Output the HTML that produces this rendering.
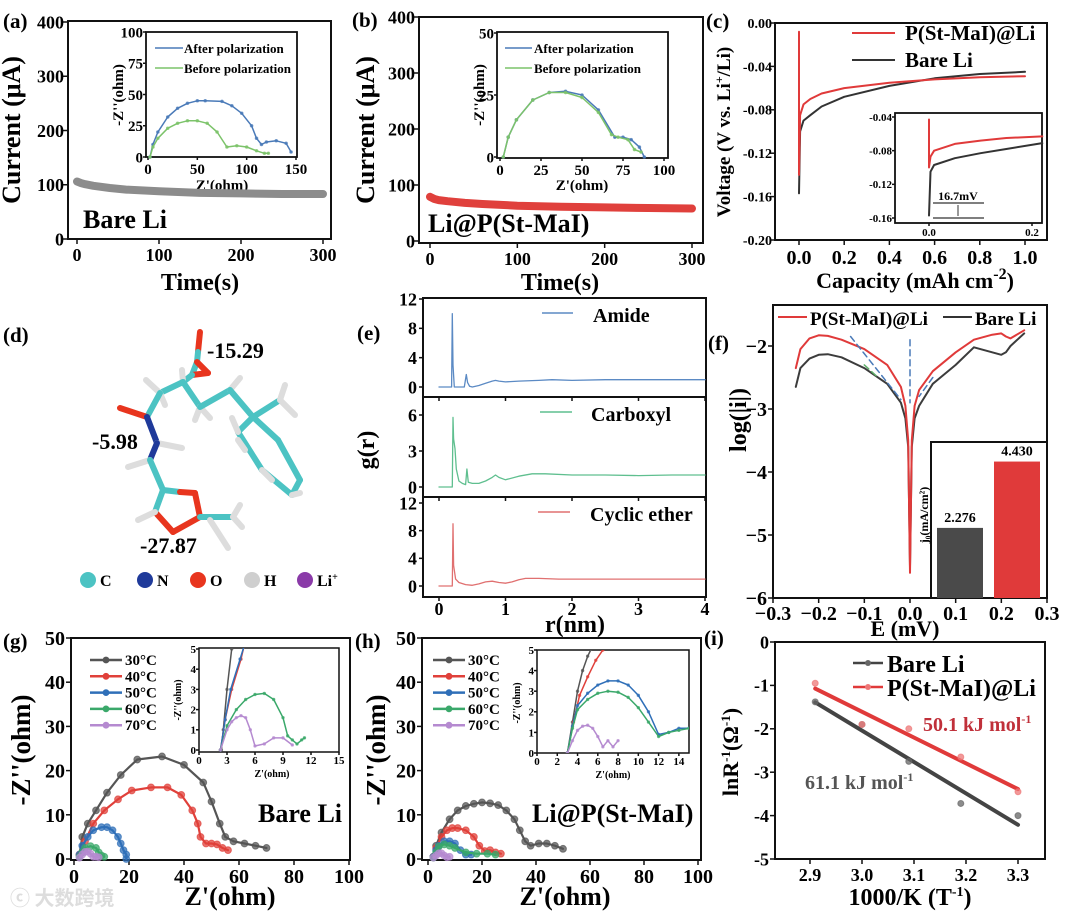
<!DOCTYPE html>
<html><head><meta charset="utf-8"><title>Figure</title>
<style>
html,body{margin:0;padding:0;background:#fff;}
svg{display:block;font-family:"Liberation Serif","Noto Serif CJK SC",serif;font-weight:bold;}
</style></head>
<body>
<svg id="fig" width="1080" height="917" viewBox="0 0 1080 917" xmlns="http://www.w3.org/2000/svg">
<rect width="1080" height="917" fill="#fff"/>
<text x="3" y="28" font-size="21">(a)</text>
<text x="352" y="27" font-size="21">(b)</text>
<text x="706" y="28" font-size="21">(c)</text>
<text x="3" y="342" font-size="21">(d)</text>
<text x="357" y="340" font-size="21">(e)</text>
<text x="708" y="350" font-size="21">(f)</text>
<text x="3" y="648" font-size="21">(g)</text>
<text x="355" y="648" font-size="21">(h)</text>
<text x="704" y="645" font-size="21">(i)</text>

<text x="200" y="290" font-size="24" text-anchor="middle">Time(s)</text>
<text transform="translate(20,130) rotate(-90)" font-size="26" text-anchor="middle">Current (μA)</text>
<text x="83" y="228" font-size="26">Bare Li</text>
<text x="222" y="190" font-size="15" text-anchor="middle">Z'(ohm)</text>
<text transform="translate(123,95) rotate(-90)" font-size="15" text-anchor="middle">-Z''(ohm)</text>

<text x="560" y="290" font-size="24" text-anchor="middle">Time(s)</text>
<text transform="translate(374,130) rotate(-90)" font-size="26" text-anchor="middle">Current (μA)</text>
<text x="428" y="232" font-size="26">Li@P(St-MaI)</text>
<text x="582" y="190" font-size="15" text-anchor="middle">Z'(ohm)</text>
<text transform="translate(484,95) rotate(-90)" font-size="15" text-anchor="middle">-Z''(ohm)</text>

<text x="915" y="288" font-size="22" text-anchor="middle">Capacity  (mAh cm<tspan dy="-9" font-size="16">-2</tspan><tspan dy="9">)</tspan></text>
<text transform="translate(730,132) rotate(-90)" font-size="19" text-anchor="middle">Voltage (V vs. Li<tspan dy="-7" font-size="12">+</tspan><tspan dy="7">/Li)</tspan></text>
<text x="905" y="40" font-size="21">P(St-MaI)@Li</text>
<text x="905" y="67" font-size="21">Bare Li</text>
<line x1="852" y1="33" x2="895" y2="33" stroke="#e03a3a" stroke-width="2"/>
<line x1="852" y1="60" x2="895" y2="60" stroke="#333" stroke-width="2"/>
<g id="cAnnot">
<text x="958" y="200" font-size="12" text-anchor="middle">16.7mV</text>
<line x1="933" y1="203" x2="984" y2="203" stroke="#333" stroke-width="1.3"/>
<line x1="933" y1="218" x2="984" y2="218" stroke="#333" stroke-width="1.3"/>
<line x1="958" y1="205" x2="958" y2="216" stroke="#333" stroke-width="1"/>
</g>

<text x="575" y="632" font-size="24" text-anchor="middle">r(nm)</text>
<text transform="translate(374,450) rotate(-90)" font-size="24" text-anchor="middle">g(r)</text>
<line x1="542" y1="313" x2="573" y2="313" stroke="#5b8ac4" stroke-width="1.5"/>
<text x="593" y="322" font-size="20">Amide</text>
<line x1="540" y1="412" x2="572" y2="412" stroke="#5fbf8f" stroke-width="1.5"/>
<text x="591" y="421" font-size="20">Carboxyl</text>
<line x1="538" y1="512" x2="570" y2="512" stroke="#e07070" stroke-width="1.5"/>
<text x="590" y="521" font-size="20">Cyclic ether</text>

<text x="905" y="636" font-size="22" text-anchor="middle">E (mV)</text>
<text transform="translate(746,420) rotate(-90)" font-size="24" text-anchor="middle">log(|i|)</text>
<line x1="778" y1="317" x2="807" y2="317" stroke="#e03a3a" stroke-width="2"/>
<text x="810" y="325" font-size="19">P(St-MaI)@Li</text>
<line x1="943" y1="317" x2="972" y2="317" stroke="#333" stroke-width="2"/>
<text x="975" y="325" font-size="19">Bare Li</text>

<text x="230" y="905" font-size="26" text-anchor="middle">Z'(ohm)</text>
<text transform="translate(30,750) rotate(-90)" font-size="27" text-anchor="middle">-Z''(ohm)</text>
<text x="258" y="822" font-size="26">Bare Li</text>
<text x="272" y="777" font-size="10" text-anchor="middle">Z'(ohm)</text>
<text transform="translate(181,700) rotate(-90)" font-size="10" text-anchor="middle">-Z''(ohm)</text>

<text x="565" y="905" font-size="26" text-anchor="middle">Z'(ohm)</text>
<text transform="translate(385,750) rotate(-90)" font-size="27" text-anchor="middle">-Z''(ohm)</text>
<text x="532" y="822" font-size="26">Li@P(St-MaI)</text>
<text x="613" y="778" font-size="10" text-anchor="middle">Z'(ohm)</text>
<text transform="translate(520,703) rotate(-90)" font-size="10" text-anchor="middle">-Z''(ohm)</text>

<text x="910" y="905" font-size="24" text-anchor="middle">1000/K (T<tspan dy="-9" font-size="14">-1</tspan><tspan dy="9">)</tspan></text>
<text transform="translate(738,752) rotate(-90)" font-size="22" text-anchor="middle">lnR<tspan dy="-8" font-size="13">-1</tspan><tspan dy="8">(Ω</tspan><tspan dy="-8" font-size="13">-1</tspan><tspan dy="8">)</tspan></text>
<line x1="853" y1="663" x2="883" y2="663" stroke="#444" stroke-width="2.5"/>
<circle cx="868" cy="663" r="3" fill="#666"/>
<text x="887" y="672" font-size="24">Bare Li</text>
<line x1="853" y1="687" x2="883" y2="687" stroke="#e03a3a" stroke-width="2.5"/>
<circle cx="868" cy="687" r="3" fill="#e77"/>
<text x="887" y="696" font-size="24">P(St-MaI)@Li</text>
<text x="923" y="731" font-size="20" fill="#c0303a">50.1 kJ mol<tspan dy="-8" font-size="12">-1</tspan></text>
<text x="805" y="789" font-size="20" fill="#555">61.1 kJ mol<tspan dy="-8" font-size="12">-1</tspan></text>

<g id="mol" stroke-linecap="round" fill="none" stroke-width="6"></g>
<text x="207" y="358" font-size="22">-15.29</text>
<text x="92" y="449" font-size="22">-5.98</text>
<text x="140" y="553" font-size="22">-27.87</text>
<g font-size="16">
<circle cx="88" cy="580" r="8" fill="#4cc3c3"/><text x="100" y="586">C</text>
<circle cx="145" cy="580" r="8" fill="#1f3a9a"/><text x="157" y="586">N</text>
<circle cx="198" cy="580" r="8" fill="#e8351e"/><text x="210" y="586">O</text>
<circle cx="252" cy="580" r="8" fill="#cfcfcf"/><text x="264" y="586">H</text>
<circle cx="305" cy="580" r="8" fill="#8a3aa8"/><text x="317" y="586">Li<tspan dy="-6" font-size="10">+</tspan></text>
</g>
<text x="10" y="905" font-size="20" fill="#ddd" font-family="Noto Sans CJK SC, sans-serif">ⓒ 大数跨境</text>
</svg>
<script>
const aTime=[0,5,10,20,40,60,100,150,200,250,300];
const aCurrent=[106,103,101,98,94,91,88,85,84,83,83];
const bCurrent=[79,75,73,71,68,66,63,61,60,59,58];
const aInAfterX=[2,5,10,20,30,40,50,58,75,85,95,105,110,115,120,130,140,145];
const aInAfterY=[0,10,20,32,39,43,45,45,44.5,41,35,25,15,10,12,13,11,4];
const aInBeforeX=[2,5,10,20,30,40,50,60,70,80,90,100,110,118,122];
const aInBeforeY=[0,8,15,23,27,29,29,27,20,8,9,8,5,3,3];
const bInAfterX=[2,5,10,20,30,40,50,60,70,75,80,85,88];
const bInAfterY=[0,8,15,23,26,26.5,25,19,8,8,7,4,0];
const bInBeforeX=[2,5,10,20,30,40,50,60,68,72,78,82,86];
const bInBeforeY=[0,8,15,23,26,26,24,18,9,8,7,3,2];
const cRedX=[0,0,0.005,0.02,0.05,0.1,0.2,0.4,0.6,0.8,1.0];
const cRedY=[-0.008,-0.14,-0.085,-0.075,-0.07,-0.065,-0.06,-0.055,-0.052,-0.05,-0.049];
const cBareX=[0,0.005,0.02,0.05,0.1,0.2,0.4,0.6,0.8,1.0];
const cBareY=[-0.157,-0.1,-0.09,-0.085,-0.077,-0.068,-0.058,-0.051,-0.047,-0.045];
const cInRedX=[0,0,0.003,0.01,0.05,0.1,0.15,0.22];
const cInRedY=[-0.043,-0.1,-0.087,-0.08,-0.072,-0.068,-0.065,-0.063];
const cInBareX=[0,0.003,0.01,0.05,0.1,0.15,0.22];
const cInBareY=[-0.157,-0.105,-0.097,-0.089,-0.083,-0.078,-0.071];
const eAmideR=[0,0.19,0.2,0.21,0.23,0.3,0.38,0.41,0.43,0.46,0.5,0.6,0.7,0.8,0.85,0.9,1.0,1.2,1.5,1.7,2.0,2.5,3.0,3.5,4.0];
const eAmideG=[0,0,10,3,0,0,0,1.7,0.6,0.1,0,0.2,0.5,0.8,0.9,0.8,0.7,0.8,0.9,1,0.9,1,1,1,1];
const eCarbR=[0,0.2,0.21,0.22,0.24,0.26,0.28,0.3,0.35,0.4,0.42,0.44,0.5,0.6,0.7,0.8,0.85,0.9,1.0,1.2,1.4,1.6,2,2.5,3,3.5,4];
const eCarbG=[0,0,5.8,4,3.2,1.5,1,0.5,0.3,0.2,1.5,0.4,0.3,0.3,0.5,0.8,1,0.8,0.6,0.9,1.1,1.1,1,1,0.95,1,1];
const eCycR=[0,0.2,0.21,0.22,0.25,0.3,0.4,0.5,0.6,0.7,0.8,0.9,1.0,1.1,1.2,1.3,1.5,1.8,2,2.5,3,3.5,4];
const eCycG=[0,0,9,3,1,0.5,0.2,0.1,0.3,0.6,0.7,0.5,0.4,0.6,0.9,1.1,1.1,1,1,1,1,1,1];
const fE=[-0.25,-0.24,-0.22,-0.2,-0.18,-0.15,-0.1,-0.05,-0.02,-0.01,-0.004,0,0.004,0.01,0.02,0.05,0.1,0.14,0.18,0.2,0.21,0.22,0.25];
const fRed=[-2.35,-2.05,-1.88,-1.83,-1.84,-1.9,-2.05,-2.3,-2.65,-2.95,-3.5,-5.6,-3.5,-2.95,-2.7,-2.4,-2.1,-1.9,-1.82,-1.8,-1.85,-1.88,-1.75];
const fBare=[-2.65,-2.35,-2.2,-2.14,-2.13,-2.18,-2.35,-2.6,-2.9,-3.15,-3.6,-5.5,-3.6,-3.15,-2.95,-2.6,-2.3,-2.02,-2.1,-2.14,-2.1,-2.0,-1.8];
const fBarCats=['Bare Li','P(St-MaI)@Li'];
const fBarVals=[2.276,4.430];
const temps=['30°C','40°C','50°C','60°C','70°C'];
const gX=[[2,3,5,8,12,17,23,32,40,47,50,53,55,58,62,66,70],[2,4,7,11,16,21,28,34,39,43,45,46,48,50,52,54,56],[2,3,5,7,10,12,14,16,17,18,19,19],[2,3,4,6,8,9,10,11],[2,3,4,5,6,7,8,9]];
const gY=[[1,5,8,11,15,19,22.5,23.2,21.3,17.3,13,8,5,4,3.5,3,2.5],[1,4,8,11,13.5,15.5,16.2,16.2,14.5,11,8,5,3.5,3.5,3.3,2.5,2],[1,3,5,6.5,7.2,7.2,6.5,5,3.5,2,1,0],[0.5,1.5,2.5,2.9,2.5,1.5,0.8,0.5],[0.3,1,1.6,1.7,1.2,0.5,0.5,0.4]];
const gInX=[[2.4,2.6,3,3.5,4,4.5],[2.3,2.8,3.5,4.5,5],[2.3,2.8,3.4,4.4,5],[2.3,3,4,5,6,7,8,9,9.5,10,10.5,11,11.3],[2.3,3,3.5,4,4.5,5,5.5,6,7,8,9,10]];
const gInY=[[0,1,3,5,7,9],[0,1.5,3,4.5,5.5],[0,1.5,3,4.5,5.4],[0,1.2,2,2.5,2.75,2.8,2.5,1.6,0.7,0.5,0.3,0.5,0.6],[0,1,1.4,1.6,1.7,1.6,1,0.2,0.3,0.6,0.6,0.25]];
const hX=[[2,3,5,8,11,14,17,20,23,26,29,32,34,36,38,41,44,47,50],[2,3,5,7,9,11,14,17,19,21,23,25,27],[2,3,4,6,8,10,12,14,16],[2,3,4,6,8,10,14,18,22,25],[2,3,4,5,6,7,8]];
const hY=[[0.5,3,6,9,11,12,12.5,12.8,12.6,12.2,11,9,6.5,4,3,3.5,3.5,3,2.3],[0.5,2.5,5,6.5,7,7,6.5,5,3,1.8,2,1.5,1.2],[0.5,2,3,4,4,3.5,2,1,1],[0.3,1.5,2.8,3.3,3,2.5,1.5,1.2,1.2,1],[0.3,0.8,1.3,1.3,0.8,0.4,0.5]];
const hInX=[[3,3.5,4,4.5,5,5.5],[3,3.6,4.2,5,5.8,6.5],[3,3.5,4,5,6,7,8,9,10,11,12,13,14,15],[3,3.5,4,5,6,7,8,9,10,11,12,13,14,15],[3,3.5,4,4.5,5,5.5,6,6.5,7,7.5,8]];
const hInY=[[0,1.5,3,4,4.7,5.2],[0,1.5,2.8,3.7,4.5,5],[0,1.3,2.3,2.9,3.3,3.5,3.5,3.3,2.8,2,0.9,1,1.2,1.2],[0,1.2,2.1,2.6,2.9,3,2.95,2.7,2.2,1.5,0.8,1,1.1,1.2],[0,0.6,1.1,1.3,1.35,1.2,0.8,0.3,0.6,0.3,0.6]];
const iX=[2.91,3.0,3.09,3.19,3.3];
const iBare=[-1.38,-1.9,-2.75,-3.72,-4.0];
const iRed=[-0.95,-1.9,-2.0,-2.65,-3.45];
const tempColors=['#555','#e0403a','#2f6fb8','#3aa86a','#b58ad0'];

const NS='http://www.w3.org/2000/svg';
const svg=document.getElementById('fig');
function mk(tag,parent){const e=document.createElementNS(NS,tag);parent.appendChild(e);return e;}
function lin(d0,d1,p0,p1){return v=>p0+(v-d0)*(p1-p0)/(d1-d0);}
function pth(xs,ys,X,Y){return xs.map((x,i)=>(i?'L':'M')+X(x).toFixed(1)+','+Y(ys[i]).toFixed(1)).join('');}
function group(name){const g=mk('g',svg);return g;}
function txt(parent,x,y,s,fs,anchor){const t=mk('text',parent);t.setAttribute('x',x);t.setAttribute('y',y);t.setAttribute('font-size',fs);t.setAttribute('text-anchor',anchor||'start');t.textContent=s;return t;}
function axes(g,name,box,X,Y,o){
  const r=mk('rect',g);
  r.setAttribute('x',box[0]);r.setAttribute('y',box[2]);r.setAttribute('width',box[1]-box[0]);r.setAttribute('height',box[3]-box[2]);
  r.setAttribute('fill',o.bg||'none');r.setAttribute('stroke','#111');r.setAttribute('stroke-width',o.sw||2);
  
  
  const tl=o.tl||5;
  (o.xt||[]).forEach((v,i)=>{
    const l=mk('line',g);l.setAttribute('x1',X(v));l.setAttribute('x2',X(v));l.setAttribute('y1',box[3]);l.setAttribute('y2',box[3]+tl);l.setAttribute('stroke','#111');l.setAttribute('stroke-width',1.5);
    
    
    if(o.xl){const t=txt(g,X(v),box[3]+o.xoff,o.xl[i],o.fs,'middle');
      
      }
  });
  (o.yt||[]).forEach((v,i)=>{
    const l=mk('line',g);l.setAttribute('y1',Y(v));l.setAttribute('y2',Y(v));l.setAttribute('x1',box[0]-tl);l.setAttribute('x2',box[0]);l.setAttribute('stroke','#111');l.setAttribute('stroke-width',1.5);
    
    
    if(o.yl){const t=txt(g,box[0]-(o.yoff||6),Y(v)+(o.yfs||o.fs)*0.35,o.yl[i],o.yfs||o.fs,'end');
      
      }
  });
}
function line(g,name,xs,ys,X,Y,color,w,dash){
  const p=mk('path',g);p.setAttribute('d',pth(xs,ys,X,Y));p.setAttribute('fill','none');p.setAttribute('stroke',color);p.setAttribute('stroke-width',w);
  p.setAttribute('stroke-linejoin','round');p.setAttribute('stroke-linecap','round');
  if(dash)p.setAttribute('stroke-dasharray',dash);
  
  
  return p;
}
function dots(g,name,xs,ys,X,Y,color,r){
  xs.forEach((x,i)=>{const c=mk('circle',g);c.setAttribute('cx',X(x));c.setAttribute('cy',Y(ys[i]));c.setAttribute('r',r);c.setAttribute('fill',color);c.setAttribute('stroke',color);c.setAttribute('stroke-opacity',0.7);c.setAttribute('fill-opacity',0.75);
    
    });
}
function fmt(v,d){return (v<0?'-':'')+Math.abs(v).toFixed(d);}

{const g=group('panel-a-chart');
 const X=lin(0,300,77,323),Y=lin(0,400,239,22);
 axes(g,'a',[68,331,21,239],X,Y,{xt:[0,100,200,300],xl:['0','100','200','300'],yt:[0,100,200,300,400],yl:['0','100','200','300','400'],fs:18,xoff:22,yoff:4});
 line(g,'a-current-line',aTime,aCurrent,X,Y,'#8c8c8c',8);
 const Xi=lin(0,150,148,296),Yi=lin(0,100,157,32);
 const gi=group('panel-a-inset');
 axes(gi,'a-inset',[146,297,32,157],Xi,Yi,{xt:[0,50,100,150],xl:['0','50','100','150'],yt:[0,25,50,75,100],yl:['0','25','50','75','100'],fs:15,xoff:17,tl:3,sw:1.8,yoff:3,bg:'#fff'});
 line(gi,'a-inset-after-line',aInAfterX,aInAfterY,Xi,Yi,'#4a7ab8',1.5);
 dots(gi,'a-inset-after-point',aInAfterX,aInAfterY,Xi,Yi,'#4a7ab8',1.3);
 line(gi,'a-inset-before-line',aInBeforeX,aInBeforeY,Xi,Yi,'#7cc36a',1.5);
 dots(gi,'a-inset-before-point',aInBeforeX,aInBeforeY,Xi,Yi,'#7cc36a',1.3);
 const l1=mk('line',gi);l1.setAttribute('x1',155);l1.setAttribute('x2',183);l1.setAttribute('y1',48);l1.setAttribute('y2',48);l1.setAttribute('stroke','#4a7ab8');l1.setAttribute('stroke-width',1.5);
 
 
 const t1=txt(gi,184,53,'After polarization',13);
 
 
 const l2=mk('line',gi);l2.setAttribute('x1',155);l2.setAttribute('x2',183);l2.setAttribute('y1',68);l2.setAttribute('y2',68);l2.setAttribute('stroke','#7cc36a');l2.setAttribute('stroke-width',1.5);
 
 
 const t2=txt(gi,184,73,'Before polarization',13);
 
 
}
{const g=group('panel-b-chart');
 const X=lin(0,300,430,692),Y=lin(0,400,241,17);
 axes(g,'b',[419,703,17,243],X,Y,{xt:[0,100,200,300],xl:['0','100','200','300'],yt:[0,100,200,300,400],yl:['0','100','200','300','400'],fs:18,xoff:22,yoff:4});
 line(g,'b-current-line',aTime,bCurrent,X,Y,'#e0403c',8);
 const Xi=lin(0,100,500,664),Yi=lin(0,50,157,33);
 const gi=group('panel-b-inset');
 axes(gi,'b-inset',[497,668,32,158],Xi,Yi,{xt:[0,25,50,75,100],xl:['0','25','50','75','100'],yt:[0,25,50],yl:['0','25','50'],fs:15,xoff:17,tl:3,sw:1.8,yoff:3,bg:'#fff'});
 line(gi,'b-inset-after-line',bInAfterX,bInAfterY,Xi,Yi,'#4a7ab8',1.5);
 dots(gi,'b-inset-after-point',bInAfterX,bInAfterY,Xi,Yi,'#4a7ab8',1.3);
 line(gi,'b-inset-before-line',bInBeforeX,bInBeforeY,Xi,Yi,'#7cc36a',1.5);
 dots(gi,'b-inset-before-point',bInBeforeX,bInBeforeY,Xi,Yi,'#7cc36a',1.3);
 const l1=mk('line',gi);l1.setAttribute('x1',505);l1.setAttribute('x2',532);l1.setAttribute('y1',48);l1.setAttribute('y2',48);l1.setAttribute('stroke','#4a7ab8');l1.setAttribute('stroke-width',1.5);
 
 
 const t1=txt(gi,534,53,'After polarization',13);
 
 
 const l2=mk('line',gi);l2.setAttribute('x1',505);l2.setAttribute('x2',532);l2.setAttribute('y1',68);l2.setAttribute('y2',68);l2.setAttribute('stroke','#7cc36a');l2.setAttribute('stroke-width',1.5);
 
 
 const t2=txt(gi,534,73,'Before polarization',13);
 
 
}
{const g=group('panel-c-chart');
 const X=lin(0,1,799,1025),Y=lin(-0.2,0,240,23);
 const ytv=[0,-0.04,-0.08,-0.12,-0.16,-0.2];
 axes(g,'c',[775,1047,23,240],X,Y,{xt:[0,0.2,0.4,0.6,0.8,1.0],xl:['0.0','0.2','0.4','0.6','0.8','1.0'],yt:ytv,yl:ytv.map(v=>fmt(v,2)),fs:20,yfs:14,xoff:24,yoff:3});
 line(g,'c-bare-line',cBareX,cBareY,X,Y,'#333',2);
 line(g,'c-red-line',cRedX,cRedY,X,Y,'#e03a3a',2);
 const Xi=lin(0,0.2,929,1032),Yi=lin(-0.16,-0.04,218,117);
 const gi=group('panel-c-inset');
 const ytv2=[-0.04,-0.08,-0.12,-0.16];
 axes(gi,'c-inset',[895,1042,113,223],Xi,Yi,{xt:[0,0.2],xl:['0.0','0.2'],yt:ytv2,yl:ytv2.map(v=>fmt(v,2)),fs:11,xoff:13,tl:3,sw:1.8,yoff:3,bg:'#fff'});
 line(gi,'c-inset-bare-line',cInBareX,cInBareY,Xi,Yi,'#333',2);
 line(gi,'c-inset-red-line',cInRedX,cInRedY,Xi,Yi,'#e03a3a',2);
 gi.appendChild(document.getElementById('cAnnot'));
}
{const g=group('panel-e-chart');
 const X=lin(0,4,439,705);
 const Y1=lin(0,12,387,299),Y2=lin(0,6,487,415),Y3=lin(0,12,586,503);
 axes(g,'e-amide',[423,706,298,397],X,Y1,{xt:[0,1,2,3,4],yt:[0,4,8,12],yl:['0','4','8','12'],fs:18,tl:4});
 axes(g,'e-carboxyl',[423,706,397,497],X,Y2,{xt:[0,1,2,3,4],yt:[0,3,6],yl:['0','3','6'],fs:18,tl:4});
 axes(g,'e-cyclic',[423,706,497,597],X,Y3,{xt:[0,1,2,3,4],xl:['0','1','2','3','4'],yt:[0,4,8,12],yl:['0','4','8','12'],fs:18,xoff:18,tl:4});
 line(g,'e-amide-curve',eAmideR,eAmideG,X,Y1,'#5b8ac4',1.3);
 line(g,'e-carboxyl-curve',eCarbR,eCarbG,X,Y2,'#5fbf8f',1.3);
 line(g,'e-cyclic-curve',eCycR,eCycG,X,Y3,'#e07070',1.3);
}
{const g=group('panel-f-chart');
 const X=lin(-0.3,0.3,773,1047),Y=lin(-6,-2,598,346);
 const xtv=[-0.3,-0.2,-0.1,0,0.1,0.2,0.3];
 axes(g,'f',[773,1047,305,598],X,Y,{xt:xtv,xl:xtv.map(v=>(v<0?'−':'')+Math.abs(v).toFixed(1)),yt:[-2,-3,-4,-5,-6],yl:['−2','−3','−4','−5','−6'],fs:20,xoff:22});
 line(g,'f-bare-curve',fE,fBare,X,Y,'#3c3c3c',2);
 line(g,'f-red-curve',fE,fRed,X,Y,'#e03a3a',2);
 line(g,'f-tangent-left',[-0.13,-0.02],[-1.85,-2.85],X,Y,'#4a7ab8',1.5,'6,4');
 line(g,'f-tangent-center',[0,0],[-1.9,-2.9],X,Y,'#4a7ab8',1.5,'6,4');
 line(g,'f-tangent-right',[0.05,0.02],[-2.5,-2.8],X,Y,'#4a7ab8',1.5,'6,4');
 line(g,'f-tangent-green',[-0.1,-0.07],[-2.3,-2.5],X,Y,'#5fae6a',1.5,'6,4');
 const bx=mk('rect',g);bx.setAttribute('x',931);bx.setAttribute('y',442);bx.setAttribute('width',116);bx.setAttribute('height',156);bx.setAttribute('fill','#fff');bx.setAttribute('stroke','#111');bx.setAttribute('stroke-width',2);
 
 
 const YB=lin(0,1,598,567.2);
 const XB=i=>960+i*57;
 const barColors=['#4a4a4a','#e03a3a'];
 fBarCats.forEach((c,i)=>{
   const r=mk('rect',g);r.setAttribute('x',XB(i)-23);r.setAttribute('width',46);r.setAttribute('y',YB(fBarVals[i]));r.setAttribute('height',598-YB(fBarVals[i]));r.setAttribute('fill',barColors[i]);
   
   
   const t=txt(g,XB(i),YB(fBarVals[i])-6,fBarVals[i].toFixed(3),14,'middle');
   
   
 });
 const jt=mk('text',g);jt.setAttribute('transform','translate(928,515) rotate(-90)');jt.setAttribute('font-size',12);jt.setAttribute('text-anchor','middle');jt.textContent='j₀(mA/cm²)';
 
 
}
function eis(name,box,X,Y,xs,ys,legX,inBox,Xi,Yi,ixs,iys,ixt,ixl){
 const g=group('panel-'+name+'-chart');
 axes(g,name,box,X,Y,{xt:[0,20,40,60,80,100],xl:['0','20','40','60','80','100'],yt:[0,10,20,30,40,50],yl:['0','10','20','30','40','50'],fs:20,xoff:23});
 xs.forEach((s,k)=>{
   line(g,name+'-'+temps[k]+'-line',s,ys[k],X,Y,tempColors[k],2.2);
   dots(g,name+'-'+temps[k]+'-point',s,ys[k],X,Y,tempColors[k],3.4);
 });
 temps.forEach((tn,k)=>{
   const yy=660+k*16.3;
   const l=mk('line',g);l.setAttribute('x1',legX);l.setAttribute('x2',legX+32);l.setAttribute('y1',yy);l.setAttribute('y2',yy);l.setAttribute('stroke',tempColors[k]);l.setAttribute('stroke-width',2.5);
   
   
   const c=mk('circle',g);c.setAttribute('cx',legX+16);c.setAttribute('cy',yy);c.setAttribute('r',3.4);c.setAttribute('fill',tempColors[k]);
   
   
   const t=txt(g,legX+35,yy+5,tn,15);
   
   
 });
 const gi=group('panel-'+name+'-inset');
 const cid=name+'clip';
 const cp=mk('clipPath',gi);cp.setAttribute('id',cid);
 const cr=mk('rect',cp);cr.setAttribute('x',inBox[0]);cr.setAttribute('y',inBox[2]);cr.setAttribute('width',inBox[1]-inBox[0]);cr.setAttribute('height',inBox[3]-inBox[2]);
 const yt=[0,1,2,3,4,5];
 axes(gi,name+'-inset',inBox,Xi,Yi,{xt:ixt,xl:ixl,yt:yt,yl:yt.map(String),fs:11,xoff:12,tl:3,sw:1.5,yoff:3});
 const gc=mk('g',gi);gc.setAttribute('clip-path','url(#'+cid+')');
 
 
 ixs.forEach((s,k)=>{
   line(gc,name+'-inset-'+temps[k]+'-line',s,iys[k],Xi,Yi,tempColors[k],1.5);
   dots(gc,name+'-inset-'+temps[k]+'-point',s,iys[k],Xi,Yi,tempColors[k],1.2);
 });
}
eis('g',[71,350,638,860],lin(0,100,74,349),lin(0,50,859,638),gX,gY,90,[199,339,648,752],lin(0,15,199,339),lin(0,5,750,649),gInX,gInY,[0,3,6,9,12,15],['0','3','6','9','12','15']);
eis('h',[422,701,638,860],lin(0,100,428,698),lin(0,50,859,638),hX,hY,433,[537,689,650,753],lin(0,15,537,689),lin(0,5,753,650),hInX,hInY,[0,2,4,6,8,10,12,14],['0','2','4','6','8','10','12','14']);
{const g=group('panel-i-chart');
 const X=lin(2.9,3.3,810,1018),Y=lin(-5,0,859,642);
 axes(g,'i',[775,1045,642,859],X,Y,{xt:[2.9,3.0,3.1,3.2,3.3],xl:['2.9','3.0','3.1','3.2','3.3'],yt:[0,-1,-2,-3,-4,-5],yl:['0','-1','-2','-3','-4','-5'],fs:18,xoff:22});
 function fit(xs,ys){const n=xs.length,mx=xs.reduce((a,b)=>a+b)/n,my=ys.reduce((a,b)=>a+b)/n;let sxy=0,sxx=0;xs.forEach((x,i)=>{sxy+=(x-mx)*(ys[i]-my);sxx+=(x-mx)*(x-mx);});const s=sxy/sxx;return x=>my+s*(x-mx);}
 const fb=fit(iX,iBare),fr=fit(iX,iRed);
 const ends=[iX[0],iX[iX.length-1]];
 line(g,'i-bare-fit',ends,ends.map(fb),X,Y,'#444',4);
 line(g,'i-red-fit',ends,ends.map(fr),X,Y,'#e03a3a',4);
 dots(g,'i-bare-point',iX,iBare,X,Y,'#666',3);
 dots(g,'i-red-point',iX,iRed,X,Y,'#e77',3);
}
const molBonds=[
 ['#e8351e',200,332,198,352],['#4cc3c3',198,352,197,362],['#4cc3c3',197,362,192,375],['#e8351e',197,362,208,373],['#e8351e',208,373,192,375],
 ['#4cc3c3',192,375,183,382],['#ddd',183,382,182,370],['#4cc3c3',183,382,160,393],['#ddd',160,393,146,380],['#ddd',160,393,165,405],
 ['#4cc3c3',160,393,147,417],['#e8351e',147,417,120,408],['#1f3a9a',147,417,157,443],['#ddd',157,443,182,448],
 ['#1f3a9a',157,443,150,460],['#ddd',150,460,128,467],['#4cc3c3',150,460,163,490],
 ['#4cc3c3',163,490,180,492],['#e8351e',180,492,195,493],['#e8351e',195,493,200,517],['#e8351e',200,517,173,532],['#e8351e',173,532,155,512],['#4cc3c3',155,512,163,490],['#ddd',155,512,138,520],
 ['#4cc3c3',200,517,233,517],['#ddd',233,517,240,505],['#ddd',233,517,242,527],['#ddd',210,520,228,548],
 ['#4cc3c3',183,382,200,407],['#ddd',200,407,195,420],['#ddd',200,407,210,418],['#4cc3c3',200,407,230,390],['#ddd',230,390,240,378],
 ['#4cc3c3',230,390,253,417],['#4cc3c3',253,417,280,400],['#ddd',280,400,285,385],['#ddd',280,400,295,415],
 ['#4cc3c3',253,417,238,432],['#4cc3c3',238,432,262,470],['#4cc3c3',262,470,292,495],['#4cc3c3',292,495,300,480],['#4cc3c3',300,480,278,440],['#4cc3c3',278,440,253,417],
 ['#ddd',238,432,232,418],['#ddd',262,470,272,480],['#ddd',292,495,300,493],['#ddd',238,440,245,450]
];
{const mg=document.getElementById('mol');
 molBonds.forEach((b,i)=>{
   const l=mk('line',mg);l.setAttribute('x1',b[1]);l.setAttribute('y1',b[2]);l.setAttribute('x2',b[3]);l.setAttribute('y2',b[4]);l.setAttribute('stroke',b[0]);
   
   
 });}
</script>
</body></html>
